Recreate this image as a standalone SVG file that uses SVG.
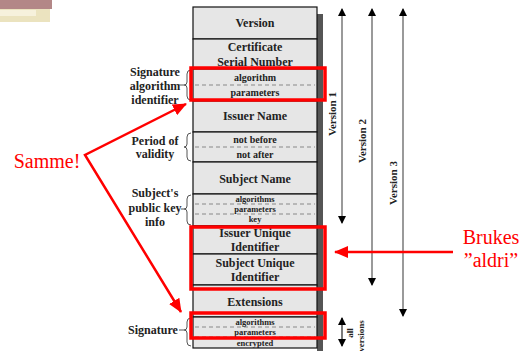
<svg xmlns="http://www.w3.org/2000/svg" width="527" height="351" viewBox="0 0 527 351">
<style>
.t{font-family:'Liberation Serif','DejaVu Serif','Times New Roman',serif;font-weight:bold;fill:#222;text-anchor:middle}
.b{font-size:12px}
.s{font-size:10px}
.x{font-size:8.5px}
.l{font-size:12px}
.row{fill:#e6e6e6;stroke:#111;stroke-width:1.2}
.dash{stroke:#888;stroke-width:1;stroke-dasharray:4 3}
.brace{fill:none;stroke:#555;stroke-width:1}
.vline{stroke:#9a9a9a;stroke-width:2}
.red{fill:none;stroke:#ff0000;stroke-width:3.5}
.rl{stroke:#ff0000;stroke-width:2.5;fill:none}
.rt{font-family:'Liberation Serif','DejaVu Serif','Times New Roman',serif;font-size:20px;fill:#ff0000}
</style>
<defs>
<marker id="ah" markerWidth="8" markerHeight="8" refX="7" refY="4" orient="auto-start-reverse" markerUnits="userSpaceOnUse">
<path d="M0,0 L8,4 L0,8 Z" fill="#000"/>
</marker>
<marker id="rah" markerWidth="14" markerHeight="12" refX="13" refY="6" orient="auto-start-reverse" markerUnits="userSpaceOnUse">
<path d="M0,0 L14,6 L0,12 Z" fill="#ff0000"/>
</marker>
</defs>
<rect width="527" height="351" fill="#fff"/>
<g id="decoration">
<rect x="0" y="0" width="52" height="9" fill="#b38787"/>
<rect x="0" y="9" width="50" height="13" fill="#ebe3bf"/>
<rect x="0" y="10" width="36" height="6" fill="#f6f1dc"/>
</g>
<g id="table">
<rect x="317" y="14" width="6" height="337" fill="#555"/>
<g id="n-version"><rect class="row" x="193" y="7" width="124" height="32"/><text class="t b" x="255" y="27">Version</text></g>
<g id="n-serial"><rect class="row" x="193" y="39" width="124" height="30"/><text class="t b" x="255" y="51">Certificate</text><text class="t b" x="255" y="66">Serial Number</text></g>
<g id="n-sigalg"><rect class="row" x="193" y="69" width="124" height="32"/><line class="dash" x1="195" y1="85" x2="315" y2="85"/><text class="t s" x="255" y="81">algorithm</text><text class="t s" x="255" y="96">parameters</text></g>
<g id="n-issuer"><rect class="row" x="193" y="101" width="124" height="31"/><text class="t b" x="255" y="120">Issuer Name</text></g>
<g id="n-validity"><rect class="row" x="193" y="132" width="124" height="30"/><line class="dash" x1="195" y1="147" x2="315" y2="147"/><text class="t s" x="255" y="143">not before</text><text class="t s" x="255" y="158">not after</text></g>
<g id="n-subject"><rect class="row" x="193" y="162" width="124" height="32"/><text class="t b" x="255" y="183">Subject Name</text></g>
<g id="n-pubkey"><rect class="row" x="193" y="194" width="124" height="32"/><line class="dash" x1="195" y1="204" x2="315" y2="204"/><line class="dash" x1="195" y1="214" x2="315" y2="214"/><text class="t x" x="255" y="202">algorithms</text><text class="t x" x="255" y="212">parameters</text><text class="t x" x="255" y="222">key</text></g>
<g id="n-issueruid"><rect class="row" x="193" y="226" width="124" height="28"/><text class="t b" x="255" y="237">Issuer Unique</text><text class="t b" x="255" y="251">Identifier</text></g>
<g id="n-subjectuid"><rect class="row" x="193" y="254" width="124" height="31"/><text class="t b" x="255" y="267">Subject Unique</text><text class="t b" x="255" y="281">Identifier</text></g>
<g id="n-extensions"><rect class="row" x="193" y="285" width="124" height="32"/><text class="t b" x="255" y="306">Extensions</text></g>
<g id="n-signature"><rect class="row" x="193" y="317" width="124" height="31"/><line class="dash" x1="195" y1="327" x2="315" y2="327"/><line class="dash" x1="195" y1="337" x2="315" y2="337"/><text class="t x" x="255" y="325">algorithms</text><text class="t x" x="255" y="335">parameters</text><text class="t x" x="255" y="345.5">encrypted</text></g>
</g>
<g id="labels">
<g id="lbl-sigalg"><text class="t l" x="155" y="76">Signature</text><text class="t l" x="155" y="90">algorithm</text><text class="t l" x="155" y="104">identifier</text>
<path class="brace" d="M191,70 Q187,70 187,74 L187,82 Q187,85 184,85 Q187,85 187,88 L187,96 Q187,100 191,100"/><line x1="179" y1="85" x2="184" y2="85" stroke="#555"/></g>
<g id="lbl-validity"><text class="t l" x="155" y="145">Period of</text><text class="t l" x="155" y="158">validity</text>
<path class="brace" d="M191,133 Q187,133 187,137 L187,144 Q187,147 184,147 Q187,147 187,150 L187,157 Q187,161 191,161"/></g>
<g id="lbl-pubkey"><text class="t l" x="155" y="197">Subject's</text><text class="t l" x="155" y="212">public key</text><text class="t l" x="155" y="226">info</text>
<path class="brace" d="M191,195 Q187,195 187,199 L187,206 Q187,209 184,209 Q187,209 187,212 L187,221 Q187,225 191,225"/><line x1="181" y1="209" x2="184" y2="209" stroke="#555"/></g>
<g id="lbl-signature"><text class="t l" x="153" y="334">Signature</text>
<path class="brace" d="M191,318 Q187,318 187,322 L187,327 Q187,330 184,330 Q187,330 187,333 L187,342 Q187,346 191,346"/><line x1="179" y1="330" x2="184" y2="330" stroke="#555"/></g>
</g>
<g id="versions">
<line class="vline" x1="342" y1="9" x2="342" y2="223" marker-start="url(#ah)" marker-end="url(#ah)"/>
<line class="vline" x1="372" y1="9" x2="372" y2="285" marker-start="url(#ah)" marker-end="url(#ah)"/>
<line class="vline" x1="403" y1="9" x2="403" y2="316" marker-start="url(#ah)" marker-end="url(#ah)"/>
<line x1="342" y1="318" x2="342" y2="346" stroke="#222" stroke-width="1.2" marker-start="url(#ah)" marker-end="url(#ah)"/>
<text class="t" font-size="11" transform="translate(336,114) rotate(-90)">Version 1</text>
<text class="t" font-size="11" transform="translate(366,141) rotate(-90)">Version 2</text>
<text class="t" font-size="11" transform="translate(397,183) rotate(-90)">Version 3</text>
<text class="t" font-size="9" transform="translate(353,333) rotate(-90)">all</text>
<text class="t" font-size="9" transform="translate(364,336) rotate(-90)">versions</text>
</g>
<g id="highlights">
<rect class="red" x="191" y="68" width="134" height="32"/>
<rect class="red" x="191" y="227" width="134" height="62"/>
<rect class="red" x="191" y="313" width="134" height="25"/>
</g>
<g id="connectors">
<polyline class="rl" points="186,104 85,155 181,312" marker-start="url(#rah)" marker-end="url(#rah)"/>
<line class="rl" x1="453" y1="252" x2="335" y2="252" marker-end="url(#rah)"/>
</g>
<g id="notes">
<text class="rt" x="47" y="168" text-anchor="middle">Samme!</text>
<text class="rt" x="491" y="244" text-anchor="middle">Brukes</text>
<text class="rt" x="491" y="267" text-anchor="middle">”aldri”</text>
</g>
</svg>
